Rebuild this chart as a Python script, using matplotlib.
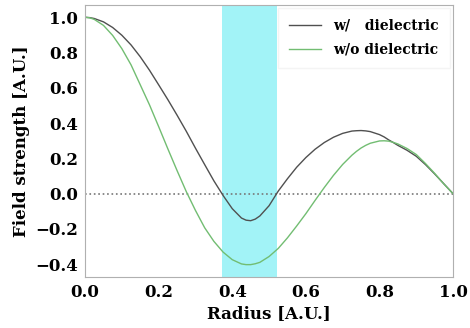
import numpy as np
import matplotlib
matplotlib.use('Agg')
import matplotlib.pyplot as plt

# radius samples (A.U.)
radius = [0.0, 0.0125, 0.025, 0.05, 0.075, 0.1, 0.125, 0.15, 0.175, 0.2, 0.225,
          0.25, 0.275, 0.3, 0.325, 0.35, 0.375, 0.4, 0.425, 0.4375, 0.45, 0.4625, 0.475,
          0.5, 0.525, 0.55, 0.575, 0.6, 0.625, 0.65, 0.675, 0.7, 0.725,
          0.7375, 0.75, 0.7625, 0.775, 0.8, 0.8125, 0.825, 0.8375, 0.85, 0.875,
          0.9, 0.925, 0.95, 0.975, 1.0]

# field strength with dielectric
with_diel = [1.0, 0.998, 0.993, 0.974, 0.942, 0.898, 0.843, 0.776, 0.700, 0.617, 0.533,
             0.445, 0.354, 0.258, 0.165, 0.073, -0.010, -0.085, -0.138, -0.150, -0.153, -0.144, -0.126,
             -0.068, 0.015, 0.085, 0.150, 0.205, 0.252, 0.290, 0.320, 0.342, 0.355,
             0.357, 0.358, 0.356, 0.352, 0.335, 0.322, 0.305, 0.290, 0.274, 0.246,
             0.212, 0.165, 0.112, 0.056, 0.0]

# field strength without dielectric
without_diel = [1.0, 0.997, 0.988, 0.954, 0.897, 0.822, 0.730, 0.617, 0.504, 0.380, 0.254,
                0.131, 0.012, -0.095, -0.193, -0.270, -0.331, -0.374, -0.398, -0.402, -0.402, -0.397, -0.389,
                -0.356, -0.310, -0.250, -0.183, -0.113, -0.038, 0.035, 0.104, 0.166, 0.218,
                0.240, 0.259, 0.274, 0.286, 0.299, 0.300, 0.298, 0.291, 0.282, 0.256,
                0.222, 0.171, 0.115, 0.055, 0.0]

# dielectric region
diel_start, diel_end = 0.372, 0.521

plt.rcParams['font.family'] = 'DejaVu Serif'
plt.rcParams['font.weight'] = 'bold'

fig = plt.figure(figsize=(4.7, 3.28), dpi=100)
ax = fig.add_axes([0.181, 0.155, 0.783, 0.830])

ax.axvspan(diel_start, diel_end, color='#a2f3f7', lw=0, zorder=0)
ax.axhline(0, color='#777777', linestyle=':', lw=1.2, zorder=1)
ax.plot(radius, with_diel, color='#505050', lw=1.0, label='w/   dielectric')
ax.plot(radius, without_diel, color='#72bd72', lw=1.0, label='w/o dielectric')

ax.set_xlim(0, 1)
ax.set_ylim(-0.473, 1.07)
ax.set_xticks([0.0, 0.2, 0.4, 0.6, 0.8, 1.0])
ax.set_yticks([-0.4, -0.2, 0.0, 0.2, 0.4, 0.6, 0.8, 1.0])
ax.tick_params(labelsize=12, length=0, pad=5)
for sp in ax.spines.values():
    sp.set_color('#b0b0b0')

ax.set_xlabel('Radius [A.U.]', fontsize=12, fontweight='bold', labelpad=3)
ax.set_ylabel('Field strength [A.U.]', fontsize=12, fontweight='bold')

leg = ax.legend(loc='upper right', fontsize=10, frameon=True, fancybox=False,
                edgecolor='#f2f2f2', handlelength=2.3, handletextpad=0.9,
                labelspacing=0.7, borderpad=0.8, borderaxespad=0.2)

fig.savefig('out.png', dpi=100)
